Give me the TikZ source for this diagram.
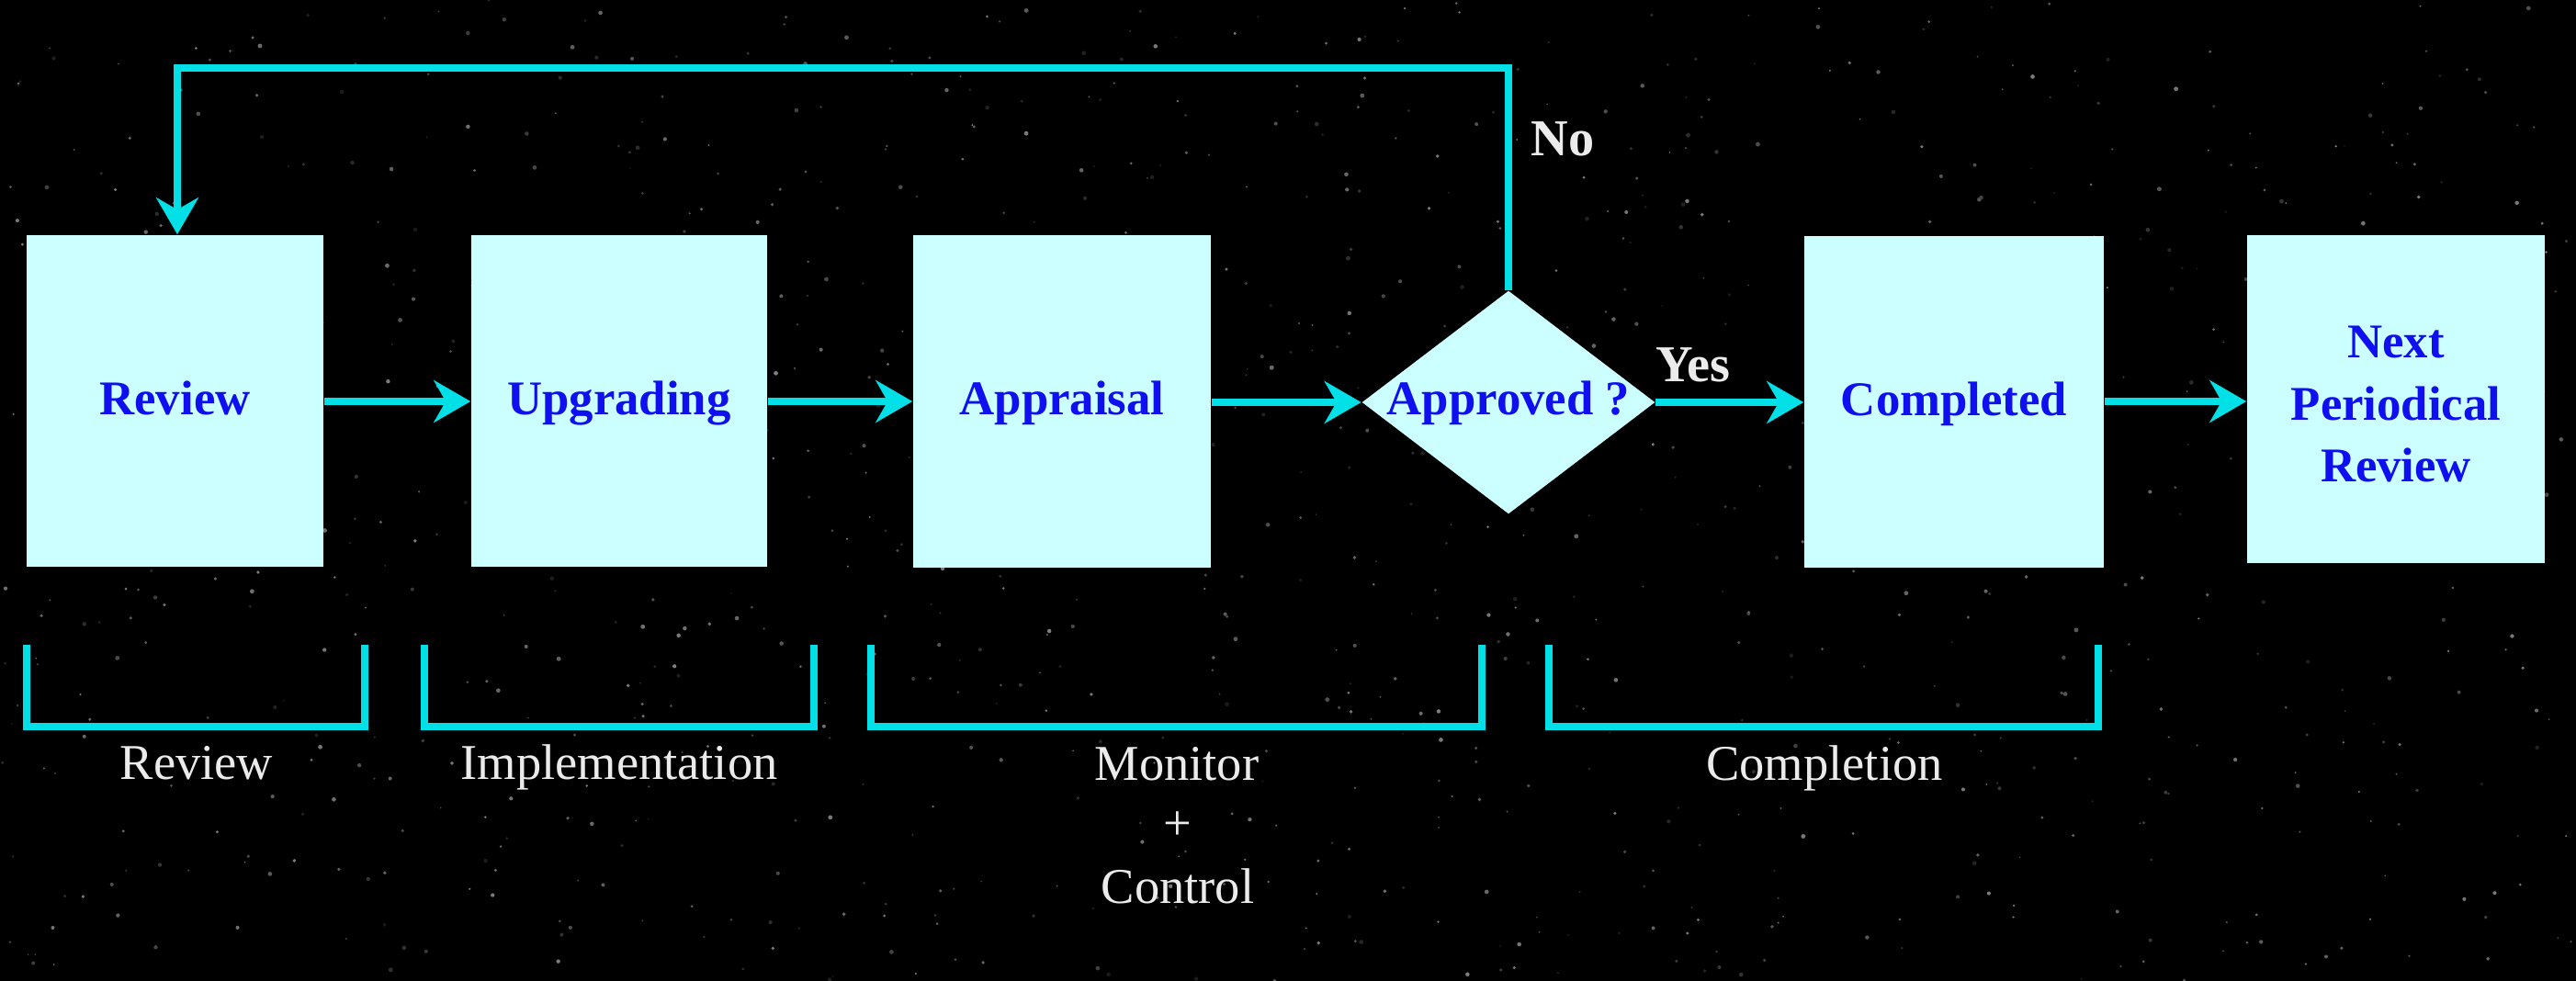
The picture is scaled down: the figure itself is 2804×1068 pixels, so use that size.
\documentclass[tikz,border=0pt]{standalone}
\usepackage{fontspec}
\setmainfont{Liberation Serif}
\usetikzlibrary{arrows.meta,shapes.geometric}
\definecolor{lnc}{RGB}{0,224,230}
\definecolor{boxc}{RGB}{204,255,255}
\definecolor{txtb}{RGB}{15,15,240}
\begin{document}
\begin{tikzpicture}[x=0.01cm,y=-0.01cm,
  boxfont/.style={font=\fontsize{15}{19.2}\selectfont\bfseries,text=txtb},
  stepbox/.style={draw=none,fill=boxc,minimum width=#1,minimum height=3.61cm,inner sep=0pt,
    boxfont,align=center,text height=10.5pt,text depth=2pt},
  flow/.style={draw=lnc,line width=2.4pt,line join=miter,-{Stealth[length=0.40cm,width=0.46cm,inset=0.13cm]}},
  brk/.style={draw=lnc,line width=2.5pt,line join=miter},
  phase/.style={text=white!92!black,font=\fontsize{15.5}{19.2}\selectfont,inner sep=0pt,anchor=base},
  ans/.style={text=white!92!black,font=\fontsize{16}{19}\selectfont\bfseries,inner sep=0pt,anchor=base}]
\useasboundingbox (0,0) rectangle (2804,1068);
\fill[black] (0,0) rectangle (2804,1068);
% starry background
\pgfmathsetseed{7}
\foreach \i in {1,...,1100}{
  \pgfmathsetmacro\sx{rnd*2804}
  \pgfmathsetmacro\sy{rnd*1068}
  \pgfmathsetmacro\sr{0.25+rnd*0.45}
  \pgfmathsetmacro\so{10+rnd*40}
  \fill[white!\so!black] (\sx,\sy) circle[radius=\sr pt];
}
% boxes
\node[stepbox=3.23cm] (rev) at (190.5,436.5) {Review};
\node[stepbox=3.22cm] (upg) at (674,436.5) {Upgrading};
\node[stepbox=3.24cm] (app) at (1156,437) {Appraisal};
\node[diamond,fill=boxc,draw=none,minimum width=3.19cm,minimum height=2.43cm,inner sep=0pt,aspect=1.31] (dec) at (1642,438) {};
\node[boxfont,inner sep=0pt,text height=10.5pt,text depth=2pt] (dect) at (1642,437) {Approved ?};
\node[stepbox=3.26cm] (cmp) at (2127,437.5) {Completed};
\node[draw=none,fill=boxc,minimum width=3.24cm,minimum height=3.57cm,inner sep=0pt] (nxt) at (2608,434.5) {};
\node[boxfont,align=center,inner sep=0pt] (nxtt) at (2608,440) {Next\\Periodical\\Review};
% connectors
\coordinate (fbL) at (193,74);
\draw[flow] (rev.east |- 0,437) -- (upg.west |- 0,437);
\draw[flow] (upg.east |- 0,437) -- (app.west |- 0,437);
\draw[flow] (app.east |- dec.west) -- (dec.west);
\draw[flow] (dec.east) -- (cmp.west |- dec.east);
\draw[flow] (cmp.east |- 0,437) -- (nxt.west |- 0,437);
\draw[flow] (dec.north) |- (fbL) -- (fbL |- rev.north);
% yes / no
\node[ans] (no) at (1701,170) {No};
\node[ans] (yes) at (1843,416) {Yes};
% brackets
\draw[brk] (29,702) -- (29,791) -- (397,791) -- (397,702);
\draw[brk] (462,702) -- (462,791) -- (886,791) -- (886,702);
\draw[brk] (948,702) -- (948,791) -- (1613,791) -- (1613,702);
\draw[brk] (1686,702) -- (1686,791) -- (2284,791) -- (2284,702);
% phase labels
\node[phase] (p1) at (214,849) {Review};
\node[phase] (p2) at (674,849) {Implementation};
\node[phase] (p3) at (1281,850) {Monitor};
\node[phase] (p3b) at (1282,915) {+};
\node[phase] (p3c) at (1282,984) {Control};
\node[phase] (p4) at (1986,850) {Completion};
\end{tikzpicture}
\end{document}
